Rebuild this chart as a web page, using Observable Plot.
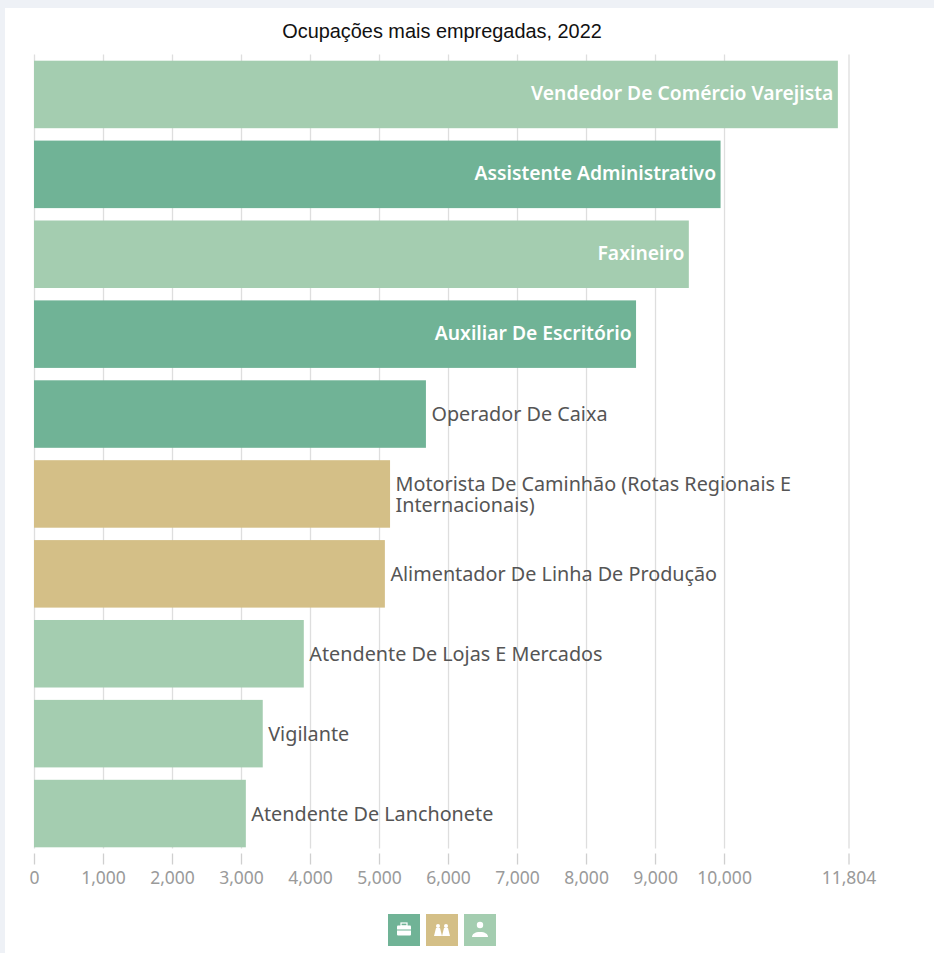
<!DOCTYPE html>
<html lang="pt">
<head>
<meta charset="utf-8">
<script src="https://cdn.jsdelivr.net/npm/d3@7"></script>
<script src="https://cdn.jsdelivr.net/npm/@observablehq/plot@0.6"></script>
<style>
  html, body { margin: 0; padding: 0; background: #eef1f6; }
  body { width: 934px; height: 953px; overflow: hidden; position: relative; }
  #panel { position: absolute; left: 5px; top: 8px; right: 0; bottom: 0; background: #fff; }
  #title { position: absolute; left: 0; width: 884px; top: 20px; text-align: center;
    font: 19.9px "Liberation Sans", Arial, sans-serif; color: #111; }
  #chart { position: absolute; left: 0; top: 0; }
  #legend { position: absolute; left: 388px; top: 914px; display: flex; gap: 6px; }
  #legend svg { display: block; width: 32px; height: 32px; }
</style>
</head>
<body>
<div id="panel"></div>
<div id="chart"></div>
<div id="title"></div>
<div id="legend"></div>
<script>
const titleText = "Ocupações mais empregadas, 2022";
const occupations = [
  "Vendedor De Comércio Varejista",
  "Assistente Administrativo",
  "Faxineiro",
  "Auxiliar De Escritório",
  "Operador De Caixa",
  "Motorista De Caminhão (Rotas Regionais E\nInternacionais)",
  "Alimentador De Linha De Produção",
  "Atendente De Lojas E Mercados",
  "Vigilante",
  "Atendente De Lanchonete"
];
const employed = [11650, 9950, 9490, 8725, 5680, 5160, 5085, 3910, 3315, 3070];
const sectors = [
  "Serviços", "Escritório", "Serviços", "Escritório", "Escritório",
  "Indústria", "Indústria", "Serviços", "Serviços", "Serviços"
];
const sectorDomain = ["Escritório", "Indústria", "Serviços"];
const sectorColors = ["#70b396", "#d4bf87", "#a4cdb0"];
const tickValues = [0, 1000, 2000, 3000, 4000, 5000, 6000, 7000, 8000, 9000, 10000, 11804];
const insideThreshold = 8000;

const rows = occupations.map((name, i) => ({name, value: employed[i], sector: sectors[i]}));
const fontFamily = '"Noto Sans", sans-serif';

const chart = Plot.plot({
  width: 934,
  height: 900,
  marginTop: 54.5,
  marginBottom: 46.5,
  marginLeft: 34,
  marginRight: 85.5,
  style: {background: "transparent"},
  x: {domain: [0, 11804]},
  y: {domain: occupations, axis: null, round: false, paddingInner: 0.155, paddingOuter: 0.0775, label: null},
  color: {domain: sectorDomain, range: sectorColors},
  marks: [
    Plot.ruleX(tickValues, {stroke: "#dedede", strokeWidth: 1.3, insetBottom: 5}),
    Plot.axisX(tickValues, {
      tickSize: 11, tickPadding: 7, stroke: "#cfcfcf", fill: "#9a9a9a", label: null,
      tickFormat: d3.format(","), fontSize: 17.5, fontFamily, strokeWidth: 1.3
    }),
    Plot.barX(rows, {x: "value", y: "name", fill: "sector"}),
    Plot.text(rows.filter(d => d.value > insideThreshold), {
      x: "value", y: "name", text: "name", textAnchor: "end", dx: -5, dy: -1,
      fill: "#fff", fontWeight: 600, fontSize: 19.3, fontFamily
    }),
    Plot.text(rows.filter(d => d.value <= insideThreshold), {
      x: "value", y: "name", text: "name", textAnchor: "start", dx: 5,
      fill: "#555", lineHeight: 1.06, fontSize: 19.8, fontFamily
    })
  ]
});
document.getElementById("chart").append(chart);
document.getElementById("title").textContent = titleText;

const glyphs = [
  '<rect x="9" y="11.5" width="14" height="10" rx="1" fill="#fff"/><rect x="13" y="9" width="6" height="3" fill="none" stroke="#fff" stroke-width="1.2"/><rect x="9" y="15.5" width="14" height="1" fill="#70b396"/>',
  '<circle cx="12" cy="12" r="2" fill="#fff"/><circle cx="20" cy="12" r="2" fill="#fff"/><path d="M8 22l2-8h4l2 8zM16 22l2-8h4l2 8z" fill="#fff"/>',
  '<circle cx="16" cy="11" r="3.2" fill="#fff"/><path d="M8 23c0-3 3-5 8-5s8 2 8 5z" fill="#fff"/>'
];
document.getElementById("legend").innerHTML = sectorColors.map((c, i) =>
  `<svg viewBox="0 0 32 32"><rect width="32" height="32" fill="${c}"/>${glyphs[i]}</svg>`).join("");
</script>
</body>
</html>
